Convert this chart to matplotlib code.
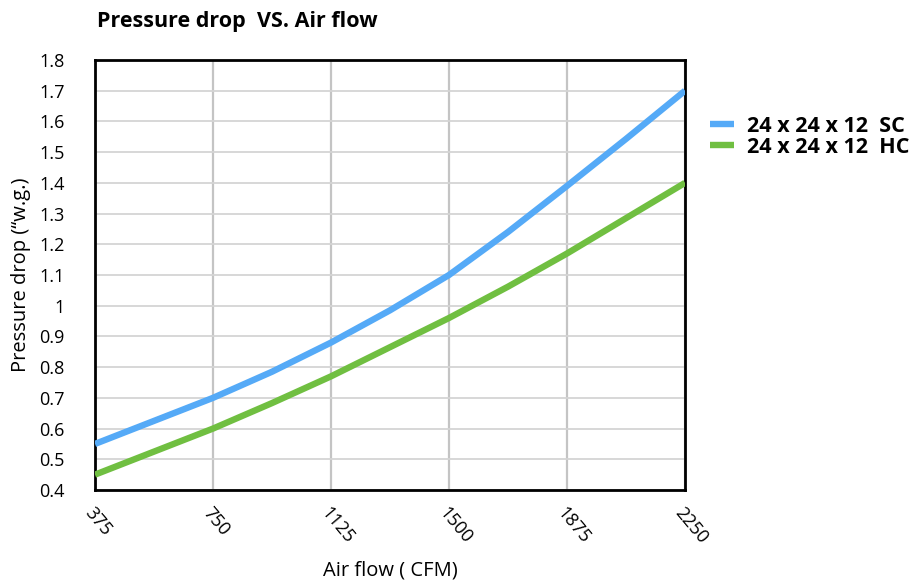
import matplotlib
matplotlib.use('Agg')
import matplotlib.pyplot as plt

# air flow (CFM) and pressure drop ("w.g.)
air_flow = [375, 562.5, 750, 937.5, 1125, 1312.5, 1500, 1687.5, 1875, 2062.5, 2250]
drop_sc = [0.55, 0.625, 0.70, 0.785, 0.88, 0.985, 1.10, 1.24, 1.39, 1.543, 1.70]
drop_hc = [0.45, 0.525, 0.60, 0.683, 0.77, 0.865, 0.96, 1.062, 1.17, 1.285, 1.40]
x_ticks = [375, 750, 1125, 1500, 1875, 2250]
y_ticks = [0.4, 0.5, 0.6, 0.7, 0.8, 0.9, 1.0, 1.1, 1.2, 1.3, 1.4, 1.5, 1.6, 1.7, 1.8]
y_labels = ['0.4', '0.5', '0.6', '0.7', '0.8', '0.9', '1', '1.1', '1.2', '1.3',
            '1.4', '1.5', '1.6', '1.7', '1.8']

plt.rcParams['font.family'] = ['Open Sans', 'DejaVu Sans']

fig = plt.figure(figsize=(9.18, 5.83), dpi=100)
ax = fig.add_axes([95 / 918, 1 - 490 / 583, 590 / 918, 430 / 583])

ax.plot(air_flow, drop_sc, color='#55aaf7', linewidth=4.6, label='24 x 24 x 12  SC',
        solid_capstyle='butt', solid_joinstyle='round', zorder=3)
ax.plot(air_flow, drop_hc, color='#70bf41', linewidth=4.6, label='24 x 24 x 12  HC',
        solid_capstyle='butt', solid_joinstyle='round', zorder=3)

ax.set_xlim(375, 2250)
ax.set_ylim(0.4, 1.8)
ax.set_xticks(x_ticks)
ax.set_xticklabels([str(v) for v in x_ticks], rotation=-50, ha='left', va='top',
                   fontsize=13, rotation_mode='anchor')
ax.set_yticks(y_ticks)
ax.set_yticklabels(y_labels, fontsize=13)
ax.tick_params(axis='both', length=0)
ax.tick_params(axis='y', pad=22)
ax.tick_params(axis='x', pad=10)

ax.grid(axis='x', color='#c4c4c4', linewidth=1.6)
ax.grid(axis='y', color='#d4d4d4', linewidth=1.3)
ax.set_axisbelow(True)
for s in ax.spines.values():
    s.set_linewidth(2)
    s.set_color('black')

ax.set_xlabel('Air flow ( CFM)', fontsize=14.5, labelpad=10)
ax.set_ylabel('Pressure drop (\u201cw.g.)', fontsize=14.5, labelpad=6)

fig.text(97 / 918, 1 - 22 / 583, 'Pressure drop  VS. Air flow', fontsize=15.5,
         fontweight='bold', ha='left', va='center')

ax.legend(loc='upper left', bbox_to_anchor=(1.01, 0.915), frameon=False,
          prop={'size': 15.5, 'weight': 'bold'}, handlelength=1.1, handletextpad=0.6,
          labelspacing=0.0)

fig.savefig('out.png', dpi=100)
